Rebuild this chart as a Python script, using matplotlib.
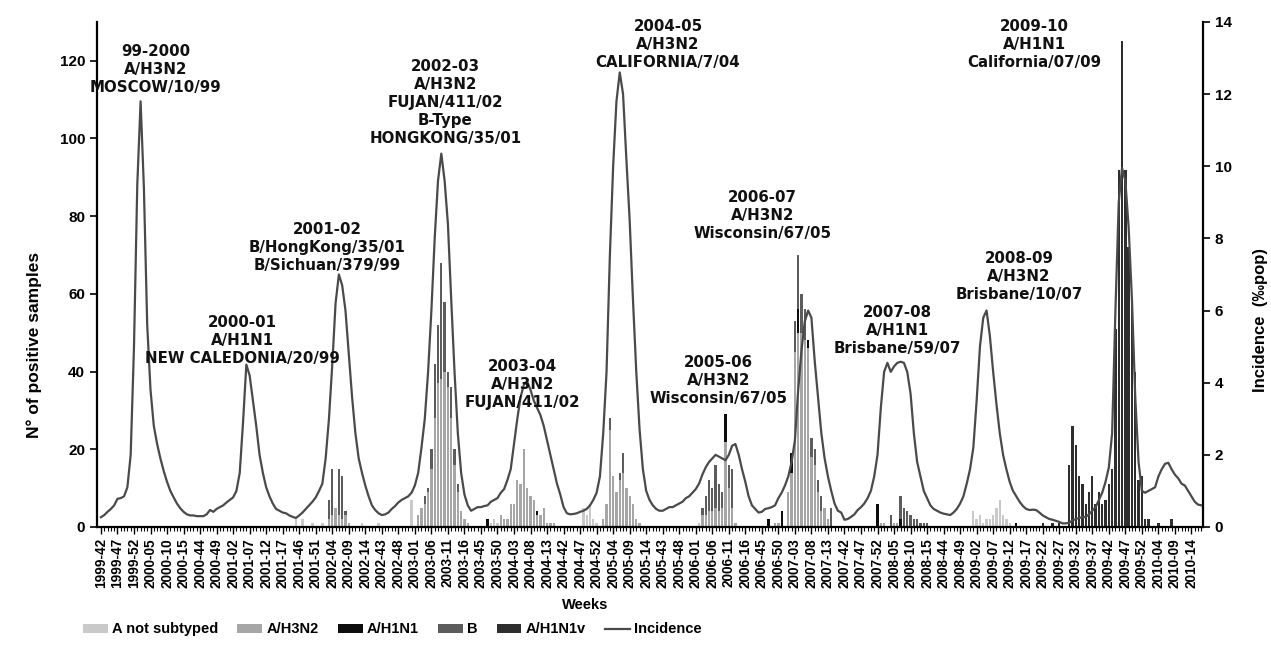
import numpy as np
import matplotlib
matplotlib.use("Agg")
import matplotlib.pyplot as plt
from matplotlib.patches import Patch
from matplotlib.lines import Line2D

# ---- week categories: flu seasons 42..17, full year during the 2009 pandemic
season_starts = [1999, 2000, 2001, 2002, 2003, 2004, 2005, 2006, 2007]
long_years = {2004: 53, 2009: 53}
weeks = []
for y in season_starts:
    weeks += ["%d-%02d" % (y, w) for w in range(42, long_years.get(y, 52) + 1)]
    weeks += ["%d-%02d" % (y + 1, w) for w in range(1, 18)]
weeks += ["2008-%02d" % w for w in range(42, 53)]
weeks += ["2009-%02d" % w for w in range(1, 54)]
weeks += ["2010-%02d" % w for w in range(1, 18)]

# ---- incidence (per mille pop), one list per season
inc_9900 = [0.27, 0.33, 0.42, 0.5, 0.6, 0.78, 0.8, 0.85, 1.1, 2.0, 5.0, 9.5, 11.8, 9.4,
            5.6, 3.8, 2.8, 2.3, 1.9, 1.55, 1.25, 1.0, 0.82, 0.65, 0.52, 0.42, 0.35, 0.32]
inc_0001 = [0.32, 0.3, 0.3, 0.3, 0.35, 0.47, 0.42, 0.5, 0.55, 0.6, 0.68, 0.75, 0.82, 1.0,
            1.5, 2.9, 4.5, 4.2, 3.5, 2.8, 2.0, 1.5, 1.1, 0.85, 0.65, 0.5, 0.45, 0.4]
inc_0102 = [0.38, 0.32, 0.28, 0.25, 0.32, 0.4, 0.5, 0.6, 0.7, 0.82, 1.0, 1.2, 1.9, 3.0,
            4.5, 6.2, 7.0, 6.7, 6.0, 4.8, 3.6, 2.6, 1.9, 1.5, 1.15, 0.85, 0.6, 0.47]
inc_0203 = [0.38, 0.33, 0.35, 0.4, 0.5, 0.58, 0.68, 0.75, 0.8, 0.85, 0.95, 1.15, 1.5, 2.2,
            3.0, 4.3, 6.0, 8.0, 9.6, 10.35, 9.6, 8.4, 6.3, 4.3, 2.6, 1.5, 0.9, 0.6]
inc_0304 = [0.45, 0.5, 0.55, 0.55, 0.58, 0.6, 0.7, 0.75, 0.8, 0.95, 1.05, 1.3, 1.6, 2.3,
            3.0, 3.6, 3.95, 4.03, 3.8, 3.5, 3.3, 3.1, 2.8, 2.4, 2.0, 1.6, 1.2, 0.9]
inc_0405 = [0.55, 0.38, 0.35, 0.36, 0.38, 0.42, 0.45, 0.5, 0.6, 0.75, 0.95, 1.4, 2.6, 4.3,
            7.5, 10.0, 11.8, 12.6, 12.0, 10.2, 8.5, 6.3, 4.3, 2.7, 1.6, 1.0, 0.75, 0.6, 0.5]
inc_0506 = [0.45, 0.45, 0.5, 0.55, 0.55, 0.6, 0.65, 0.7, 0.8, 0.85, 0.95, 1.05, 1.2, 1.45,
            1.65, 1.8, 1.9, 2.0, 1.95, 1.9, 1.85, 2.0, 2.25, 2.3, 2.0, 1.6, 1.25, 0.85]
inc_0607 = [0.6, 0.5, 0.4, 0.42, 0.5, 0.52, 0.55, 0.6, 0.8, 0.95, 1.15, 1.4, 1.8, 2.4,
            3.8, 4.9, 5.7, 6.0, 5.8, 4.6, 3.6, 2.6, 1.9, 1.4, 1.0, 0.65, 0.45, 0.4]
inc_0708 = [0.2, 0.22, 0.28, 0.35, 0.47, 0.55, 0.65, 0.8, 1.0, 1.4, 2.0, 3.3, 4.3, 4.55,
            4.3, 4.45, 4.55, 4.58, 4.55, 4.3, 3.7, 2.6, 1.8, 1.4, 1.0, 0.8, 0.6, 0.5]
inc_2008 = [0.45, 0.4, 0.37, 0.35, 0.33, 0.4, 0.5, 0.65, 0.85, 1.2, 1.6]
inc_2009 = [2.2, 3.5, 5.0, 5.8, 6.0, 5.3, 4.3, 3.4, 2.6, 2.0, 1.6, 1.25, 1.0, 0.85, 0.7,
            0.58, 0.5, 0.47, 0.48, 0.47, 0.4, 0.32, 0.27, 0.22, 0.2, 0.17, 0.14, 0.1, 0.1,
            0.12, 0.18, 0.22, 0.25, 0.27, 0.28, 0.35, 0.45, 0.55, 0.75, 0.95, 1.25, 1.65,
            2.6, 6.0, 9.0, 9.95, 9.6, 8.3, 6.3, 3.6, 1.8, 1.0, 0.95]
inc_2010 = [1.0, 1.05, 1.1, 1.4, 1.6, 1.75, 1.78, 1.6, 1.45, 1.35, 1.2, 1.15, 1.0, 0.85,
            0.7, 0.62, 0.6]

# ---- positive samples per week, by type
a_not_subtyped = {"2001-45": 2, "2001-47": 2, "2001-50": 1, "2002-01": 1, "2002-13": 1,
                  "2002-42": 1, "2002-52": 7, "2003-48": 1, "2003-49": 2, "2003-50": 1,
                  "2004-48": 5, "2004-49": 3, "2004-50": 6, "2004-51": 2, "2004-52": 1,
                  "2006-02": 1, "2009-01": 4, "2009-02": 2, "2009-03": 3, "2009-04": 1,
                  "2009-05": 2, "2009-06": 2, "2009-07": 3, "2009-08": 5, "2009-09": 7,
                  "2009-10": 3, "2009-11": 2, "2009-12": 1}
a_h3n2 = {"2002-03": 2, "2002-04": 3, "2002-05": 5, "2002-06": 3, "2002-07": 2, "2002-08": 3,
          "2002-09": 1,
          "2003-02": 3, "2003-03": 5, "2003-04": 6, "2003-05": 9, "2003-06": 15, "2003-07": 28,
          "2003-08": 37, "2003-09": 38, "2003-10": 40, "2003-11": 36, "2003-12": 28,
          "2003-13": 16, "2003-14": 9, "2003-15": 4, "2003-16": 2, "2003-17": 1,
          "2003-51": 3, "2003-52": 2, "2004-01": 2, "2004-02": 6, "2004-03": 6, "2004-04": 12,
          "2004-05": 11, "2004-06": 20, "2004-07": 10, "2004-08": 8, "2004-09": 7, "2004-10": 3,
          "2004-11": 3, "2004-12": 5, "2004-13": 1, "2004-14": 1, "2004-15": 1,
          "2005-01": 2, "2005-02": 6, "2005-03": 25, "2005-04": 13, "2005-05": 9, "2005-06": 12,
          "2005-07": 14, "2005-08": 10, "2005-09": 8, "2005-10": 6, "2005-11": 2, "2005-12": 1,
          "2006-03": 3, "2006-04": 3, "2006-05": 4, "2006-06": 4, "2006-07": 5, "2006-08": 4,
          "2006-09": 5, "2006-10": 22, "2006-11": 10, "2006-12": 5, "2006-13": 1,
          "2006-49": 1, "2006-50": 1, "2007-01": 9, "2007-02": 14, "2007-03": 45, "2007-04": 50,
          "2007-05": 50, "2007-06": 48, "2007-07": 46, "2007-08": 18, "2007-09": 16,
          "2007-10": 9, "2007-11": 4, "2007-12": 5, "2007-13": 2,
          "2008-01": 1, "2008-02": 1, "2008-05": 1, "2008-06": 1}
a_h1n1 = {"2003-47": 2, "2004-10": 1, "2006-10": 7, "2006-47": 2, "2006-51": 4, "2007-02": 5,
          "2007-04": 6, "2007-07": 2, "2007-52": 6, "2008-07": 2, "2009-14": 1}
b_type = {"2002-03": 5, "2002-04": 12, "2002-06": 12, "2002-07": 11, "2002-08": 1,
          "2003-04": 2, "2003-05": 1, "2003-06": 5, "2003-07": 14, "2003-08": 15, "2003-09": 30,
          "2003-10": 18, "2003-11": 4, "2003-12": 8, "2003-13": 4, "2003-14": 2,
          "2005-03": 3, "2005-06": 2, "2005-07": 5,
          "2006-03": 2, "2006-04": 5, "2006-05": 8, "2006-06": 6, "2006-07": 11, "2006-08": 7,
          "2006-09": 4, "2006-11": 6, "2006-12": 10,
          "2007-03": 8, "2007-04": 14, "2007-05": 10, "2007-06": 8, "2007-08": 5, "2007-09": 4,
          "2007-10": 3, "2007-11": 4, "2007-14": 5,
          "2008-04": 3, "2008-07": 6, "2008-08": 5, "2008-09": 4, "2008-10": 3, "2008-11": 2,
          "2008-12": 2, "2008-13": 1, "2008-14": 1, "2008-15": 1}
a_h1n1v = {"2009-22": 1, "2009-25": 1, "2009-27": 1, "2009-30": 16, "2009-31": 26,
           "2009-32": 21, "2009-33": 13, "2009-34": 11, "2009-35": 6, "2009-36": 9,
           "2009-37": 13, "2009-38": 6, "2009-39": 9, "2009-40": 6, "2009-41": 7,
           "2009-42": 11, "2009-43": 15, "2009-44": 51, "2009-45": 92, "2009-46": 125,
           "2009-47": 92, "2009-48": 72, "2009-49": 58, "2009-50": 40, "2009-51": 12,
           "2009-52": 13, "2009-53": 2, "2010-01": 2, "2010-04": 1, "2010-08": 2}

series = [("A not subtyped", a_not_subtyped, "#c9c9c9"),
          ("A/H3N2", a_h3n2, "#a6a6a6"),
          ("A/H1N1", a_h1n1, "#0d0d0d"),
          ("B", b_type, "#5c5c5c"),
          ("A/H1N1v", a_h1n1v, "#2e2e2e")]

# season labels: (text, centre week, centre height in samples)
season_notes = [("99-2000\nA/H3N2\nMOSCOW/10/99", 16.6, 117.8),
                ("2000-01\nA/H1N1\nNEW CALEDONIA/20/99", 42.7, 48.0),
                ("2001-02\nB/HongKong/35/01\nB/Sichuan/379/99", 68.5, 72.0),
                ("2002-03\nA/H3N2\nFUJAN/411/02\nB-Type\nHONGKONG/35/01", 104.2, 109.2),
                ("2003-04\nA/H3N2\nFUJAN/411/02", 127.5, 36.6),
                ("2004-05\nA/H3N2\nCALIFORNIA/7/04", 171.6, 124.1),
                ("2005-06\nA/H3N2\nWisconsin/67/05", 186.8, 37.6),
                ("2006-07\nA/H3N2\nWisconsin/67/05", 200.1, 80.1),
                ("2007-08\nA/H1N1\nBrisbane/59/07", 241.0, 50.5),
                ("2008-09\nA/H3N2\nBrisbane/10/07", 277.8, 64.4),
                ("2009-10\nA/H1N1\nCalifornia/07/09", 282.5, 124.1)]

plt.rcParams['font.family'] = ['Liberation Sans', 'DejaVu Sans']
plt.rcParams['font.weight'] = 'bold'

incidence = np.array(inc_9900 + inc_0001 + inc_0102 + inc_0203 + inc_0304 + inc_0405 +
                     inc_0506 + inc_0607 + inc_0708 + inc_2008 + inc_2009 + inc_2010)
x = np.arange(len(weeks))
pos = {w: i for i, w in enumerate(weeks)}

fig = plt.figure(figsize=(12.71, 6.53), dpi=100)
ax = fig.add_axes([0.0763, 0.193, 0.8702, 0.7734])

bottom = np.zeros(len(weeks))
handles = []
for name, counts, col in series:
    vals = np.zeros(len(weeks))
    for w, v in counts.items():
        vals[pos[w]] = v
    ax.bar(x, vals, width=0.7, bottom=bottom, color=col, linewidth=0)
    bottom += vals
    handles.append(Patch(facecolor=col, edgecolor='none', label=name))

ax.set_xlim(-1.2, 333.5)
ax.set_ylim(0, 130)
ax.set_yticks(np.arange(0, 121, 20))
ax.set_xticks(x[::5])
ax.set_xticklabels(weeks[::5], rotation=90, fontsize=9.8)
ax.set_xticks(x, minor=True)
ax.tick_params(axis='x', which='major', length=5, width=1, pad=3)
ax.tick_params(axis='x', which='minor', length=3, width=0.8)
ax.tick_params(axis='y', length=5, width=1.2, labelsize=11)
ax.spines['top'].set_visible(False)
ax.spines['right'].set_visible(False)
ax.spines['left'].set_linewidth(1.6)
ax.spines['bottom'].set_linewidth(1.6)
ax.set_ylabel("N° of positive samples", fontsize=12.5, fontweight='bold')
ax.yaxis.set_label_coords(-0.05, 0.36)

ax2 = ax.twinx()
ax2.plot(x, incidence, color="#4a4a4a", lw=1.6)
ax2.set_ylim(0, 14)
ax2.set_yticks(np.arange(0, 15, 2))
ax2.tick_params(axis='y', length=5, width=1.2, labelsize=11)
for s in ['top', 'left', 'bottom']:
    ax2.spines[s].set_visible(False)
ax2.spines['right'].set_linewidth(1.6)
ax2.set_ylabel("Incidence  (‰pop)", fontsize=12, fontweight='bold')
ax2.yaxis.set_label_coords(1.045, 0.41)

for txt, xc, yc in season_notes:
    ax2.text(xc, yc, txt, transform=ax.transData, ha='center', va='center',
             family='DejaVu Sans', fontweight='bold', fontsize=10.8, linespacing=1.25,
             color='#111111')

fig.text(585 / 1271, 1 - 605 / 653, "Weeks", ha='center', va='center',
         fontsize=10.5, fontweight='bold')

handles.append(Line2D([], [], color="#4a4a4a", lw=1.6, label="Incidence"))
fig.legend(handles=handles, loc='center left', bbox_to_anchor=(0.055, 0.036), ncol=6,
           frameon=False, fontsize=10.5, handlelength=1.7, handleheight=0.6,
           handletextpad=0.3, columnspacing=1.3)

fig.savefig("out.png", dpi=100)
